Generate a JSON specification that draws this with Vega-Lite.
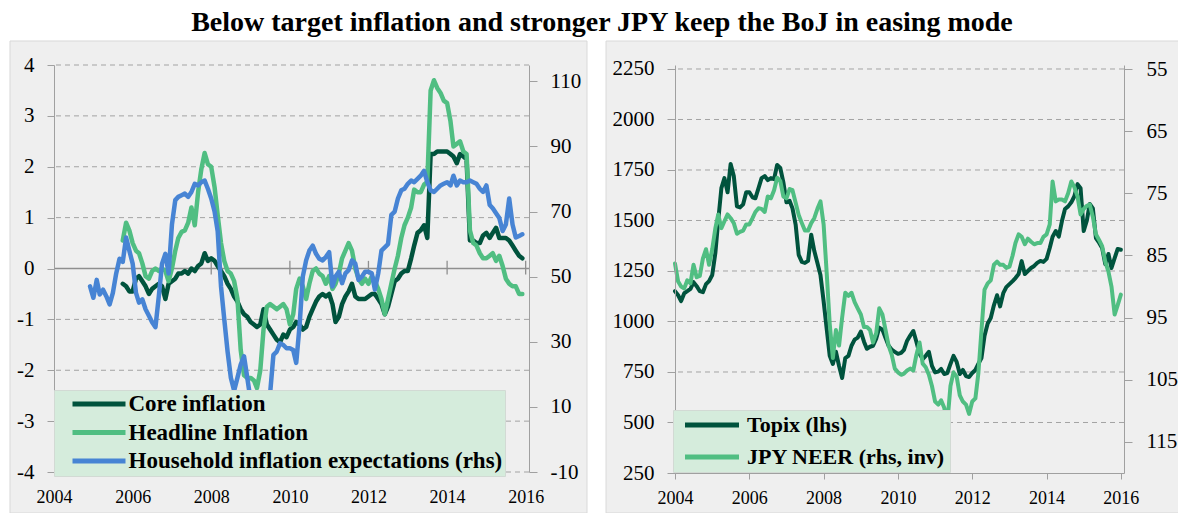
{
"$schema": "https://vega.github.io/schema/vega-lite/v6.json",
"background": "white",
"padding": {"left": 9, "top": 9, "right": 0, "bottom": 0},
"title": {"text": "Below target inflation and stronger JPY keep the BoJ in easing mode", "font": "Liberation Serif", "fontSize": 28, "fontWeight": "bold", "color": "#000000", "anchor": "middle", "offset": 3, "dx": 7},
"spacing": 17,
"resolve": {"scale": {"color": "independent"}, "legend": {"color": "independent"}},
"config": {
  "view": {"stroke": null},
  "axis": {"labelFont": "Liberation Serif", "labelColor": "#000000", "domainColor": "#a0a0a0", "tickColor": "#a0a0a0", "grid": false, "labelFlush": false, "labelOverlap": false, "labelBound": false, "title": null}
},
"datasets": {
"L": [
{"d":"2004-12-01","hh":47},
{"d":"2005-01-01","hh":43.5},
{"d":"2005-02-01","hh":49},
{"d":"2005-03-01","hh":44.5},
{"d":"2005-04-01","hh":46},
{"d":"2005-05-01","hh":44},
{"d":"2005-06-01","hh":41.5},
{"d":"2005-07-01","hh":45},
{"d":"2005-08-01","hh":51},
{"d":"2005-09-01","hh":55.5},
{"d":"2005-10-01","core":-0.3,"head":0.55,"hh":54.5},
{"d":"2005-11-01","core":-0.35,"head":0.9,"hh":62},
{"d":"2005-12-01","core":-0.45,"head":0.75,"hh":58},
{"d":"2006-01-01","core":-0.45,"head":0.5,"hh":54},
{"d":"2006-02-01","core":-0.2,"head":0.35,"hh":45},
{"d":"2006-03-01","core":-0.15,"head":0.3,"hh":42},
{"d":"2006-04-01","core":-0.25,"head":0.1,"hh":43},
{"d":"2006-05-01","core":-0.35,"head":-0.15,"hh":40},
{"d":"2006-06-01","core":-0.5,"head":-0.2,"hh":38},
{"d":"2006-07-01","core":-0.4,"head":-0.05,"hh":36},
{"d":"2006-08-01","core":-0.35,"head":0.0,"hh":34.5},
{"d":"2006-09-01","core":-0.3,"head":-0.05,"hh":44},
{"d":"2006-10-01","core":-0.35,"head":0.0,"hh":54},
{"d":"2006-11-01","core":-0.6,"head":-0.05,"hh":57},
{"d":"2006-12-01","core":-0.3,"head":-0.25,"hh":51},
{"d":"2007-01-01","core":-0.25,"head":0.0,"hh":66},
{"d":"2007-02-01","core":-0.2,"head":0.35,"hh":73.5},
{"d":"2007-03-01","core":-0.1,"head":0.6,"hh":74.5},
{"d":"2007-04-01","core":-0.1,"head":0.72,"hh":75},
{"d":"2007-05-01","core":-0.05,"head":0.75,"hh":75.5},
{"d":"2007-06-01","core":-0.1,"head":0.9,"hh":74.5},
{"d":"2007-07-01","core":0.0,"head":1.2,"hh":76},
{"d":"2007-08-01","core":-0.05,"head":0.85,"hh":78.5},
{"d":"2007-09-01","core":0.05,"head":1.5,"hh":78},
{"d":"2007-10-01","core":0.1,"head":1.95,"hh":79},
{"d":"2007-11-01","core":0.3,"head":2.27,"hh":79.5},
{"d":"2007-12-01","core":0.15,"head":2.05,"hh":77},
{"d":"2008-01-01","core":0.2,"head":2.0,"hh":74},
{"d":"2008-02-01","core":0.15,"head":1.6,"hh":70},
{"d":"2008-03-01","core":0.05,"head":1.05,"hh":64},
{"d":"2008-04-01","core":-0.05,"head":0.5,"hh":47},
{"d":"2008-05-01","core":-0.15,"head":0.15,"hh":37},
{"d":"2008-06-01","core":-0.3,"head":-0.05,"hh":27},
{"d":"2008-07-01","core":-0.4,"head":-0.1,"hh":19},
{"d":"2008-08-01","core":-0.55,"head":-0.25,"hh":15},
{"d":"2008-09-01","core":-0.65,"head":-0.6,"hh":19},
{"d":"2008-10-01","core":-0.8,"head":-1.6,"hh":23},
{"d":"2008-11-01","core":-0.9,"head":-2.1,"hh":25.5},
{"d":"2008-12-01","core":-0.95,"head":-2.15,"hh":19},
{"d":"2009-01-01","core":-1.05,"head":-2.15,"hh":12},
{"d":"2009-02-01","core":-1.1,"head":-2.2,"hh":8},
{"d":"2009-03-01","core":-1.15,"head":-2.35,"hh":5},
{"d":"2009-04-01","core":-1.1,"head":-2.0,"hh":3},
{"d":"2009-05-01","core":-0.8,"head":-1.2,"hh":4},
{"d":"2009-06-01","core":-1.1,"head":-0.75,"hh":8},
{"d":"2009-07-01","core":-1.2,"head":-0.7,"hh":14},
{"d":"2009-08-01","core":-1.3,"head":-0.75,"hh":26},
{"d":"2009-09-01","core":-1.4,"head":-0.8,"hh":27},
{"d":"2009-10-01","core":-1.45,"head":-0.75,"hh":29.5},
{"d":"2009-11-01","core":-1.3,"head":-0.7,"hh":29},
{"d":"2009-12-01","core":-1.35,"head":-0.8,"hh":28},
{"d":"2010-01-01","core":-1.2,"head":-1.1,"hh":28},
{"d":"2010-02-01","core":-1.15,"head":-0.9,"hh":27.5},
{"d":"2010-03-01","core":-1.05,"head":-0.4,"hh":23.5},
{"d":"2010-04-01","core":-1.1,"head":-0.2,"hh":35},
{"d":"2010-05-01","core":-1.2,"head":-0.35,"hh":50},
{"d":"2010-06-01","core":-1.15,"head":-0.6,"hh":55},
{"d":"2010-07-01","core":-0.95,"head":-0.3,"hh":58},
{"d":"2010-08-01","core":-0.8,"head":-0.05,"hh":59.5},
{"d":"2010-09-01","core":-0.65,"head":0.0,"hh":57},
{"d":"2010-10-01","core":-0.55,"head":-0.1,"hh":55.5},
{"d":"2010-11-01","core":-0.5,"head":-0.15,"hh":55},
{"d":"2010-12-01","core":-0.55,"head":-0.3,"hh":56},
{"d":"2011-01-01","core":-0.5,"head":-0.15,"hh":57.5},
{"d":"2011-02-01","core":-0.7,"head":-0.4,"hh":47},
{"d":"2011-03-01","core":-1.05,"head":-0.3,"hh":50},
{"d":"2011-04-01","core":-0.95,"head":-0.1,"hh":51.5},
{"d":"2011-05-01","core":-0.7,"head":0.2,"hh":48},
{"d":"2011-06-01","core":-0.55,"head":0.35,"hh":51},
{"d":"2011-07-01","core":-0.45,"head":0.5,"hh":52},
{"d":"2011-08-01","core":-0.3,"head":0.35,"hh":55},
{"d":"2011-09-01","core":-0.55,"head":0.0,"hh":54},
{"d":"2011-10-01","core":-0.6,"head":-0.2,"hh":49},
{"d":"2011-11-01","core":-0.6,"head":-0.3,"hh":50},
{"d":"2011-12-01","core":-0.6,"head":-0.2,"hh":51.5},
{"d":"2012-01-01","core":-0.55,"head":-0.3,"hh":51.5},
{"d":"2012-02-01","core":-0.5,"head":-0.15,"hh":51},
{"d":"2012-03-01","core":-0.5,"head":-0.25,"hh":46},
{"d":"2012-04-01","core":-0.6,"head":-0.4,"hh":51},
{"d":"2012-05-01","core":-0.7,"head":-0.6,"hh":58},
{"d":"2012-06-01","core":-0.9,"head":-0.9,"hh":59},
{"d":"2012-07-01","core":-0.75,"head":-0.6,"hh":60},
{"d":"2012-08-01","core":-0.5,"head":-0.3,"hh":69},
{"d":"2012-09-01","core":-0.25,"head":0.0,"hh":70},
{"d":"2012-10-01","core":-0.2,"head":0.25,"hh":74},
{"d":"2012-11-01","core":-0.1,"head":0.6,"hh":76.5},
{"d":"2012-12-01","core":-0.05,"head":0.85,"hh":77},
{"d":"2013-01-01","core":-0.05,"head":1.0,"hh":78.5},
{"d":"2013-02-01","core":0.2,"head":1.2,"hh":79.5},
{"d":"2013-03-01","core":0.45,"head":1.55,"hh":79},
{"d":"2013-04-01","core":0.7,"head":1.5,"hh":80},
{"d":"2013-05-01","core":0.75,"head":1.5,"hh":81},
{"d":"2013-06-01","core":0.85,"head":1.65,"hh":82.5},
{"d":"2013-07-01","core":0.6,"head":1.7,"hh":79},
{"d":"2013-08-01","core":2.25,"head":3.5,"hh":76.5},
{"d":"2013-09-01","core":2.25,"head":3.7,"hh":76},
{"d":"2013-10-01","core":2.3,"head":3.55,"hh":77},
{"d":"2013-11-01","core":2.3,"head":3.45,"hh":78},
{"d":"2013-12-01","core":2.3,"head":3.3,"hh":78.5},
{"d":"2014-01-01","core":2.3,"head":3.25,"hh":79},
{"d":"2014-02-01","core":2.25,"head":2.9,"hh":78},
{"d":"2014-03-01","core":2.2,"head":2.4,"hh":81},
{"d":"2014-04-01","core":2.07,"head":2.45,"hh":78},
{"d":"2014-05-01","core":2.25,"head":2.5,"hh":79.5},
{"d":"2014-06-01","core":2.2,"head":2.3,"hh":79},
{"d":"2014-07-01","core":2.15,"head":2.25,"hh":79},
{"d":"2014-08-01","core":0.55,"head":0.75,"hh":79.5},
{"d":"2014-09-01","core":0.55,"head":0.5,"hh":79},
{"d":"2014-10-01","core":0.5,"head":0.45,"hh":78.5},
{"d":"2014-11-01","core":0.5,"head":0.3,"hh":77},
{"d":"2014-12-01","core":0.65,"head":0.2,"hh":76},
{"d":"2015-01-01","core":0.7,"head":0.2,"hh":78},
{"d":"2015-02-01","core":0.6,"head":0.25,"hh":72},
{"d":"2015-03-01","core":0.7,"head":0.3,"hh":71},
{"d":"2015-04-01","core":0.8,"head":0.15,"hh":69.5},
{"d":"2015-05-01","core":0.6,"head":0.25,"hh":68},
{"d":"2015-06-01","core":0.6,"head":0.05,"hh":64},
{"d":"2015-07-01","core":0.6,"head":-0.2,"hh":66},
{"d":"2015-08-01","core":0.55,"head":-0.3,"hh":74},
{"d":"2015-09-01","core":0.45,"head":-0.35,"hh":66},
{"d":"2015-10-01","core":0.35,"head":-0.35,"hh":62},
{"d":"2015-11-01","core":0.25,"head":-0.5,"hh":62.5},
{"d":"2015-12-01","core":0.2,"head":-0.5,"hh":63}
],
"R": [
{"d":"2004-01-01","topix":1150,"neer":86.3},
{"d":"2004-02-01","topix":1130,"neer":89.2},
{"d":"2004-03-01","topix":1101,"neer":90},
{"d":"2004-04-01","topix":1140,"neer":90.3},
{"d":"2004-05-01","topix":1150,"neer":89},
{"d":"2004-06-01","topix":1161,"neer":89.5},
{"d":"2004-07-01","topix":1195,"neer":86.5},
{"d":"2004-08-01","topix":1175,"neer":88.5},
{"d":"2004-09-01","topix":1150,"neer":88.3},
{"d":"2004-10-01","topix":1145,"neer":85.5},
{"d":"2004-11-01","topix":1185,"neer":84},
{"d":"2004-12-01","topix":1200,"neer":86.5},
{"d":"2005-01-01","topix":1230,"neer":84},
{"d":"2005-02-01","topix":1340,"neer":80.6},
{"d":"2005-03-01","topix":1500,"neer":78.4},
{"d":"2005-04-01","topix":1660,"neer":80.6},
{"d":"2005-05-01","topix":1710,"neer":79.5},
{"d":"2005-06-01","topix":1640,"neer":78.4},
{"d":"2005-07-01","topix":1780,"neer":79},
{"d":"2005-08-01","topix":1720,"neer":79.8},
{"d":"2005-09-01","topix":1570,"neer":81.5},
{"d":"2005-10-01","topix":1565,"neer":81.2},
{"d":"2005-11-01","topix":1580,"neer":81},
{"d":"2005-12-01","topix":1640,"neer":80},
{"d":"2006-01-01","topix":1640,"neer":80},
{"d":"2006-02-01","topix":1615,"neer":79},
{"d":"2006-03-01","topix":1610,"neer":78},
{"d":"2006-04-01","topix":1660,"neer":77.4},
{"d":"2006-05-01","topix":1710,"neer":77.5},
{"d":"2006-06-01","topix":1720,"neer":78},
{"d":"2006-07-01","topix":1700,"neer":75.5},
{"d":"2006-08-01","topix":1710,"neer":75.8},
{"d":"2006-09-01","topix":1705,"neer":74.5},
{"d":"2006-10-01","topix":1775,"neer":72.5},
{"d":"2006-11-01","topix":1760,"neer":73},
{"d":"2006-12-01","topix":1690,"neer":75.5},
{"d":"2007-01-01","topix":1590,"neer":75.8},
{"d":"2007-02-01","topix":1597,"neer":74.3},
{"d":"2007-03-01","topix":1560,"neer":74.5},
{"d":"2007-04-01","topix":1480,"neer":76.5},
{"d":"2007-05-01","topix":1330,"neer":78.5},
{"d":"2007-06-01","topix":1295,"neer":79.8},
{"d":"2007-07-01","topix":1290,"neer":81},
{"d":"2007-08-01","topix":1300,"neer":81},
{"d":"2007-09-01","topix":1430,"neer":79.8},
{"d":"2007-10-01","topix":1350,"neer":79},
{"d":"2007-11-01","topix":1290,"neer":77.5},
{"d":"2007-12-01","topix":1230,"neer":76.3},
{"d":"2008-01-01","topix":1100,"neer":80},
{"d":"2008-02-01","topix":960,"neer":88},
{"d":"2008-03-01","topix":830,"neer":96},
{"d":"2008-04-01","topix":790,"neer":101.5},
{"d":"2008-05-01","topix":850,"neer":97},
{"d":"2008-06-01","topix":780,"neer":99.5},
{"d":"2008-07-01","topix":720,"neer":95},
{"d":"2008-08-01","topix":819,"neer":91},
{"d":"2008-09-01","topix":830,"neer":91.5},
{"d":"2008-10-01","topix":880,"neer":91},
{"d":"2008-11-01","topix":910,"neer":92.5},
{"d":"2008-12-01","topix":920,"neer":93.5},
{"d":"2009-01-01","topix":950,"neer":94.5},
{"d":"2009-02-01","topix":900,"neer":96.5},
{"d":"2009-03-01","topix":865,"neer":96.5},
{"d":"2009-04-01","topix":875,"neer":97},
{"d":"2009-05-01","topix":880,"neer":99},
{"d":"2009-06-01","topix":915,"neer":97.5},
{"d":"2009-07-01","topix":970,"neer":93.5},
{"d":"2009-08-01","topix":960,"neer":94.5},
{"d":"2009-09-01","topix":918,"neer":97},
{"d":"2009-10-01","topix":880,"neer":99.5},
{"d":"2009-11-01","topix":860,"neer":101},
{"d":"2009-12-01","topix":850,"neer":103.2},
{"d":"2010-01-01","topix":840,"neer":103.8},
{"d":"2010-02-01","topix":845,"neer":104.2},
{"d":"2010-03-01","topix":860,"neer":104},
{"d":"2010-04-01","topix":905,"neer":103.5},
{"d":"2010-05-01","topix":930,"neer":103.2},
{"d":"2010-06-01","topix":953,"neer":103.5},
{"d":"2010-07-01","topix":900,"neer":101},
{"d":"2010-08-01","topix":840,"neer":99},
{"d":"2010-09-01","topix":814,"neer":102.4},
{"d":"2010-10-01","topix":830,"neer":103},
{"d":"2010-11-01","topix":850,"neer":104.2},
{"d":"2010-12-01","topix":780,"neer":106},
{"d":"2011-01-01","topix":748,"neer":108.5},
{"d":"2011-02-01","topix":752,"neer":109},
{"d":"2011-03-01","topix":765,"neer":108.3},
{"d":"2011-04-01","topix":740,"neer":109.5},
{"d":"2011-05-01","topix":745,"neer":112},
{"d":"2011-06-01","topix":790,"neer":106},
{"d":"2011-07-01","topix":830,"neer":103.8},
{"d":"2011-08-01","topix":800,"neer":104.5},
{"d":"2011-09-01","topix":740,"neer":107.5},
{"d":"2011-10-01","topix":760,"neer":108.5},
{"d":"2011-11-01","topix":730,"neer":109},
{"d":"2011-12-01","topix":725,"neer":110.5},
{"d":"2012-01-01","topix":745,"neer":108.5},
{"d":"2012-02-01","topix":760,"neer":108},
{"d":"2012-03-01","topix":790,"neer":104},
{"d":"2012-04-01","topix":819,"neer":97},
{"d":"2012-05-01","topix":930,"neer":90.5},
{"d":"2012-06-01","topix":990,"neer":89.5},
{"d":"2012-07-01","topix":1017,"neer":89},
{"d":"2012-08-01","topix":1080,"neer":86.5},
{"d":"2012-09-01","topix":1130,"neer":86},
{"d":"2012-10-01","topix":1075,"neer":86.5},
{"d":"2012-11-01","topix":1140,"neer":86.5},
{"d":"2012-12-01","topix":1170,"neer":87},
{"d":"2013-01-01","topix":1185,"neer":86.8},
{"d":"2013-02-01","topix":1200,"neer":85},
{"d":"2013-03-01","topix":1215,"neer":83},
{"d":"2013-04-01","topix":1235,"neer":81.6},
{"d":"2013-05-01","topix":1299,"neer":82},
{"d":"2013-06-01","topix":1235,"neer":83.2},
{"d":"2013-07-01","topix":1250,"neer":82.3},
{"d":"2013-08-01","topix":1265,"neer":82.8},
{"d":"2013-09-01","topix":1275,"neer":83.2},
{"d":"2013-10-01","topix":1290,"neer":83},
{"d":"2013-11-01","topix":1300,"neer":83},
{"d":"2013-12-01","topix":1295,"neer":82},
{"d":"2014-01-01","topix":1310,"neer":81.6},
{"d":"2014-02-01","topix":1364,"neer":80},
{"d":"2014-03-01","topix":1420,"neer":73.1},
{"d":"2014-04-01","topix":1448,"neer":76.3},
{"d":"2014-05-01","topix":1420,"neer":76},
{"d":"2014-06-01","topix":1497,"neer":76},
{"d":"2014-07-01","topix":1557,"neer":76.3},
{"d":"2014-08-01","topix":1570,"neer":75},
{"d":"2014-09-01","topix":1590,"neer":73.1},
{"d":"2014-10-01","topix":1620,"neer":74},
{"d":"2014-11-01","topix":1680,"neer":75.5},
{"d":"2014-12-01","topix":1660,"neer":78.4},
{"d":"2015-01-01","topix":1448,"neer":77.5},
{"d":"2015-02-01","topix":1500,"neer":77},
{"d":"2015-03-01","topix":1582,"neer":76.8},
{"d":"2015-04-01","topix":1560,"neer":78.8},
{"d":"2015-05-01","topix":1413,"neer":81.6},
{"d":"2015-06-01","topix":1390,"neer":82.5},
{"d":"2015-07-01","topix":1364,"neer":83.5},
{"d":"2015-08-01","topix":1284,"neer":86},
{"d":"2015-09-01","topix":1334,"neer":87.6},
{"d":"2015-10-01","topix":1265,"neer":90},
{"d":"2015-11-01","topix":1314,"neer":94.5},
{"d":"2015-12-01","topix":1359,"neer":93},
{"d":"2016-01-01","topix":1355,"neer":91.3}
]
},
"hconcat": [
{
  "width": 475, "height": 407,
  "resolve": {"scale": {"y": "independent"}},
  "layer": [
    {
      "layer": [
        {
          "data": {"values": [{"x": "2002-11-18", "x2": "2017-07-24", "y": 4.472, "y2": -4.806}]},
          "mark": {"type": "rect", "fill": "#efefef", "stroke": "#d9d9d9", "strokeWidth": 1},
          "encoding": {
            "x": {"field": "x", "type": "temporal", "scale": {"type": "utc", "domain": [{"year": 2004, "month": 1, "date": 1, "utc": true}, {"year": 2016, "month": 2, "date": 1, "utc": true}]},
                  "axis": {"title": null, "zindex": 1, "domain": false, "ticks": false, "labelPadding": 16, "labelFontSize": 18, "format": "%Y", "tickCount": {"interval": "year", "step": 2}}},
            "x2": {"field": "x2"},
            "y": {"field": "y", "type": "quantitative", "scale": {"domain": [-4, 4], "nice": false, "zero": false},
                  "axis": {"title": null, "zindex": 1, "orient": "left", "values": [-4, -3, -2, -1, 0, 1, 2, 3, 4], "tickSize": 7, "labelPadding": 13, "labelFontSize": 21, "labelExpr": "'' + datum.value"}},
            "y2": {"field": "y2"}
          }
        },
        {
          "data": {"values": [{"v": -4}, {"v": -3}, {"v": -2}, {"v": -1}, {"v": 1}, {"v": 2}, {"v": 3}, {"v": 4}]},
          "mark": {"type": "rule", "stroke": "#a3a3a3", "strokeWidth": 1, "strokeDash": [5, 4]},
          "encoding": {"y": {"field": "v", "type": "quantitative", "scale": {"domain": [-4, 4], "nice": false, "zero": false}}}
        },
        {
          "data": {"values": [{"v": 0}]},
          "mark": {"type": "rule", "stroke": "#8f8f8f", "strokeWidth": 1.3},
          "encoding": {"y": {"field": "v", "type": "quantitative", "scale": {"domain": [-4, 4], "nice": false, "zero": false}}}
        },
        {
          "data": {"values": [{"t": "2006-01-01", "lo": -0.12, "hi": 0.15}, {"t": "2008-01-01", "lo": -0.12, "hi": 0.15}, {"t": "2010-01-01", "lo": -0.12, "hi": 0.15}, {"t": "2012-01-01", "lo": -0.12, "hi": 0.15}, {"t": "2014-01-01", "lo": -0.12, "hi": 0.15}, {"t": "2016-01-01", "lo": -0.12, "hi": 0.15}]},
          "mark": {"type": "rule", "stroke": "#8f8f8f", "strokeWidth": 1.3},
          "encoding": {
            "x": {"field": "t", "type": "temporal", "scale": {"type": "utc", "domain": [{"year": 2004, "month": 1, "date": 1, "utc": true}, {"year": 2016, "month": 2, "date": 1, "utc": true}]}},
            "y": {"field": "lo", "type": "quantitative", "scale": {"domain": [-4, 4], "nice": false, "zero": false}},
            "y2": {"field": "hi"}
          }
        },
        {
          "data": {"name": "L"},
          "mark": {"type": "line", "strokeWidth": 4.5, "strokeJoin": "round", "strokeCap": "round"},
          "encoding": {
            "x": {"field": "d", "type": "temporal", "scale": {"type": "utc", "domain": [{"year": 2004, "month": 1, "date": 1, "utc": true}, {"year": 2016, "month": 2, "date": 1, "utc": true}]}},
            "y": {"field": "core", "type": "quantitative", "scale": {"domain": [-4, 4], "nice": false, "zero": false}},
            "color": {"datum": "Core inflation", "type": "nominal",
              "scale": {"domain": ["Core inflation", "Headline Inflation", "Household inflation expectations (rhs)"], "range": ["#00533d", "#50be82", "#4784d4"]},
              "legend": {"orient": "none", "legendX": 0, "legendY": 325, "title": null, "symbolType": "M-5.3,0L5.3,0", "symbolSize": 100, "symbolStrokeWidth": 5, "labelFont": "Liberation Serif", "labelFontSize": 23, "labelFontWeight": "bold", "labelColor": "#000000", "fillColor": "#d5ecdc", "strokeColor": "#d2dad4", "padding": 2.5, "rowPadding": 4.5, "symbolOffset": 31, "labelOffset": 18, "labelLimit": 0, "labelExpr": "datum.label + '\u00a0\u00a0\u00a0'", "zindex": 2}}
          }
        },
        {
          "data": {"name": "L"},
          "mark": {"type": "line", "strokeWidth": 4.5, "strokeJoin": "round", "strokeCap": "round"},
          "encoding": {
            "x": {"field": "d", "type": "temporal", "scale": {"type": "utc", "domain": [{"year": 2004, "month": 1, "date": 1, "utc": true}, {"year": 2016, "month": 2, "date": 1, "utc": true}]}},
            "y": {"field": "head", "type": "quantitative", "scale": {"domain": [-4, 4], "nice": false, "zero": false}},
            "color": {"datum": "Headline Inflation", "type": "nominal",
              "scale": {"domain": ["Core inflation", "Headline Inflation", "Household inflation expectations (rhs)"], "range": ["#00533d", "#50be82", "#4784d4"]}}
          }
        }
      ]
    },
    {
      "data": {"name": "L"},
      "mark": {"type": "line", "strokeWidth": 4.5, "strokeJoin": "round", "strokeCap": "round"},
      "encoding": {
        "x": {"field": "d", "type": "temporal", "scale": {"type": "utc", "domain": [{"year": 2004, "month": 1, "date": 1, "utc": true}, {"year": 2016, "month": 2, "date": 1, "utc": true}]}},
        "y": {"field": "hh", "type": "quantitative", "scale": {"domain": [-10, 115], "nice": false, "zero": false},
              "axis": {"title": null, "zindex": 1, "orient": "right", "values": [-10, 10, 30, 50, 70, 90, 110], "tickSize": 8, "labelPadding": 13, "labelFontSize": 21, "labelExpr": "'' + datum.value"}},
        "color": {"datum": "Household inflation expectations (rhs)", "type": "nominal",
          "scale": {"domain": ["Core inflation", "Headline Inflation", "Household inflation expectations (rhs)"], "range": ["#00533d", "#50be82", "#4784d4"]}}
      }
    }
  ]
},
{
  "width": 449, "height": 408,
  "resolve": {"scale": {"y": "independent"}},
  "layer": [
    {
      "layer": [
        {
          "data": {"values": [{"x": "2002-02-22", "x2": "2017-08-04", "y": 2388.6, "y2": 52}]},
          "mark": {"type": "rect", "fill": "#efefef", "stroke": "#d9d9d9", "strokeWidth": 1},
          "encoding": {
            "x": {"field": "x", "type": "temporal", "scale": {"type": "utc", "domain": [{"year": 2004, "month": 1, "date": 1, "utc": true}, {"year": 2016, "month": 2, "date": 1, "utc": true}]},
                  "axis": {"title": null, "zindex": 1, "domain": true, "ticks": true, "tickSize": 6, "labelPadding": 10, "labelFontSize": 18, "format": "%Y", "tickCount": {"interval": "year", "step": 2}}},
            "x2": {"field": "x2"},
            "y": {"field": "y", "type": "quantitative", "scale": {"domain": [250, 2269.8], "nice": false, "zero": false},
                  "axis": {"title": null, "zindex": 1, "orient": "left", "values": [250, 500, 750, 1000, 1250, 1500, 1750, 2000, 2250], "tickSize": 8, "labelPadding": 13, "labelFontSize": 21, "labelExpr": "'' + datum.value"}},
            "y2": {"field": "y2"}
          }
        },
        {
          "data": {"values": [{"v": 500}, {"v": 750}, {"v": 1000}, {"v": 1250}, {"v": 1500}, {"v": 1750}, {"v": 2000}, {"v": 2250}]},
          "mark": {"type": "rule", "stroke": "#a3a3a3", "strokeWidth": 1, "strokeDash": [5, 4]},
          "encoding": {"y": {"field": "v", "type": "quantitative", "scale": {"domain": [250, 2269.8], "nice": false, "zero": false}}}
        },
        {
          "data": {"name": "R"},
          "mark": {"type": "line", "strokeWidth": 4, "strokeJoin": "round", "strokeCap": "round"},
          "encoding": {
            "x": {"field": "d", "type": "temporal", "scale": {"type": "utc", "domain": [{"year": 2004, "month": 1, "date": 1, "utc": true}, {"year": 2016, "month": 2, "date": 1, "utc": true}]}},
            "y": {"field": "topix", "type": "quantitative", "scale": {"domain": [250, 2269.8], "nice": false, "zero": false}},
            "color": {"datum": "Topix (lhs)", "type": "nominal",
              "scale": {"domain": ["Topix (lhs)", "JPY NEER (rhs, inv)"], "range": ["#00533d", "#50be82"]},
              "legend": {"orient": "none", "legendX": -2, "legendY": 345, "title": null, "symbolType": "M-5.4,0L5.4,0", "symbolSize": 100, "symbolStrokeWidth": 5, "labelFont": "Liberation Serif", "labelFontSize": 22, "labelFontWeight": "bold", "labelColor": "#000000", "fillColor": "#d5ecdc", "strokeColor": "#d2dad4", "padding": 4, "rowPadding": 10, "symbolOffset": 24, "labelOffset": 24, "labelLimit": 0, "labelExpr": "datum.label + '\u00a0'", "zindex": 2}}
          }
        }
      ]
    },
    {
      "data": {"name": "R"},
      "mark": {"type": "line", "strokeWidth": 4, "strokeJoin": "round", "strokeCap": "round"},
      "encoding": {
        "x": {"field": "d", "type": "temporal", "scale": {"type": "utc", "domain": [{"year": 2004, "month": 1, "date": 1, "utc": true}, {"year": 2016, "month": 2, "date": 1, "utc": true}]}},
        "y": {"field": "neer", "type": "quantitative", "scale": {"domain": [54.355, 120], "nice": false, "zero": false, "reverse": true},
              "axis": {"title": null, "zindex": 1, "orient": "right", "values": [55, 65, 75, 85, 95, 105, 115], "tickSize": 8, "labelPadding": 14, "labelFontSize": 21, "labelExpr": "'' + datum.value"}},
        "color": {"datum": "JPY NEER (rhs, inv)", "type": "nominal",
          "scale": {"domain": ["Topix (lhs)", "JPY NEER (rhs, inv)"], "range": ["#00533d", "#50be82"]}}
      }
    }
  ]
}
]
}
